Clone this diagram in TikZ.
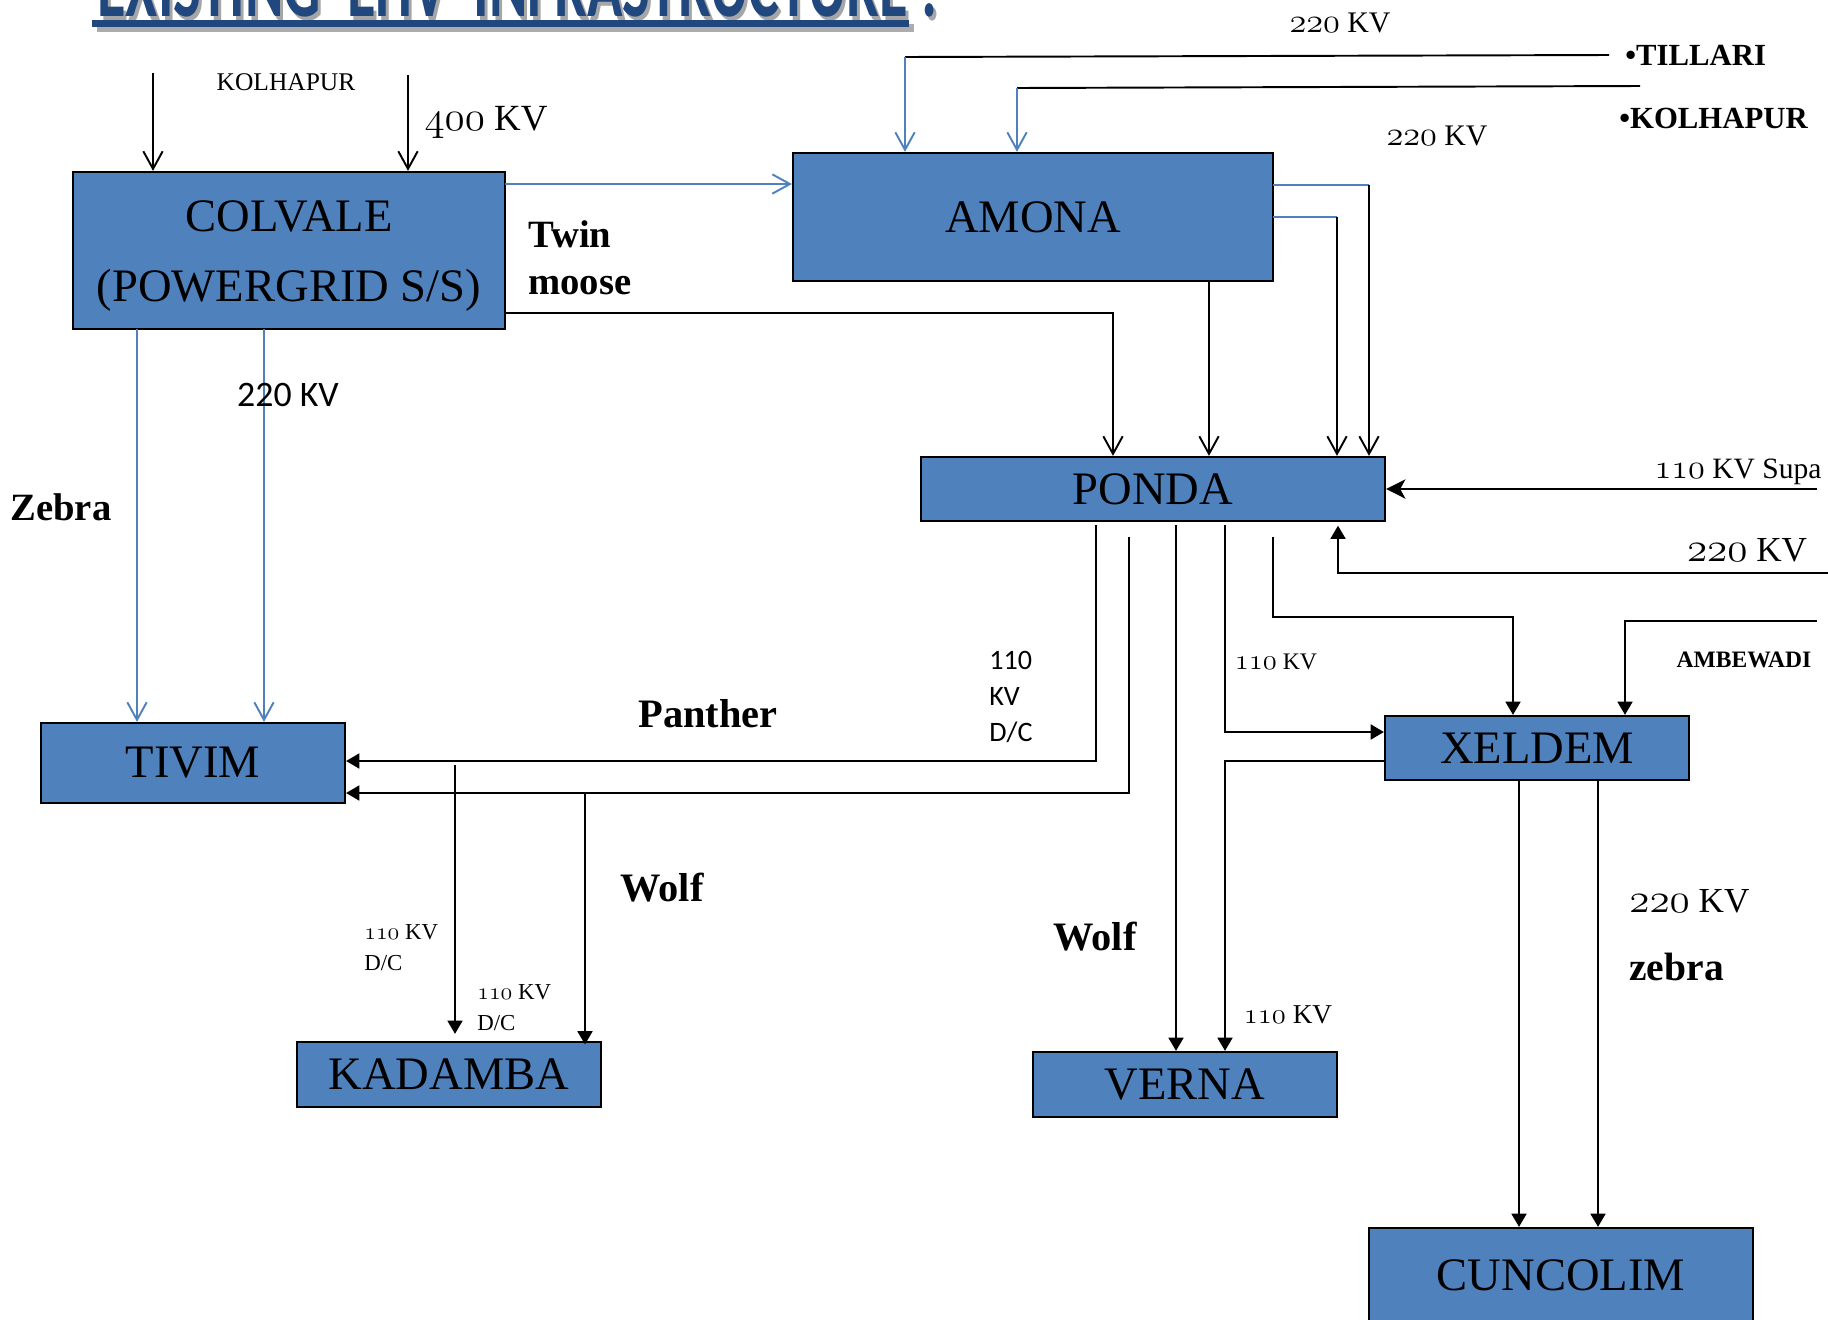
\documentclass[tikz,border=0pt]{standalone}
\usepackage{fontspec}
\usepackage{graphicx}
\setmainfont{Liberation Serif}
\newfontfamily\carl{Carlito}
\usetikzlibrary{arrows.meta,calc}
\newcommand\osn[1]{\scalebox{1.13}{\usefont{OML}{cmm}{m}{it}#1}}
\definecolor{boxblue}{RGB}{79,129,189}
\definecolor{titleblue}{RGB}{33,72,126}
\tikzset{
  box/.style={draw=black, fill=boxblue, line width=1.3pt, inner sep=0pt,
    font=\fontsize{26.5}{40}\selectfont, align=center},
  ln/.style={draw=black, line width=1.1pt},
  bl/.style={draw=boxblue, line width=1.2pt},
  oa/.style={-{Straight Barb[length=10pt,width=11pt,line width=1.1pt]}},
  ta/.style={-{Triangle[length=7.5pt,width=8.5pt]}},
  sa/.style={-{Stealth[length=11pt,width=11pt,inset=3pt]}},
  lbl/.style={inner sep=0pt},
}
\begin{document}
\begin{tikzpicture}[x=0.02cm,y=-0.02cm]
\useasboundingbox (0,0) rectangle (1828,1319);

% ---- title (cut off at top) ----
\fill[gray!65] (97,24) rectangle (914,32);
\node[lbl, anchor=base west, text=gray!70] (titleshadow) at (100,20)
  {\resizebox{16.8cm}{1.2cm}{\carl\bfseries EXISTING\ \ EHV\ \ INFRASTRUCTURE :}};
\node[lbl, anchor=base west, text=titleblue] (title) at (97,16)
  {\resizebox{16.8cm}{1.2cm}{\carl\bfseries EXISTING\ \ EHV\ \ INFRASTRUCTURE :}};
\fill[titleblue] (92,20) rectangle (909,27);

% ---- boxes ----
\node[box, minimum width=8.64cm, minimum height=3.14cm] (colvale) at (289,250.5) {\rule{0pt}{24pt}COLVALE\\(POWERGRID S/S)};
\node[box, minimum width=9.6cm, minimum height=2.56cm] (amona) at (1033,217) {AMONA};
\node[box, minimum width=9.28cm, minimum height=1.28cm] (ponda) at (1153,489) {PONDA};
\node[box, minimum width=6.08cm, minimum height=1.6cm] (tivim) at (193,763) {TIVIM};
\node[box, minimum width=6.08cm, minimum height=1.3cm] (kadamba) at (449,1074.5) {KADAMBA};
\node[box, minimum width=6.08cm, minimum height=1.3cm] (verna) at (1185,1084.5) {VERNA};
\node[box, minimum width=6.08cm, minimum height=1.28cm] (xeldem) at (1537,748) {XELDEM};
\node[box, minimum width=7.68cm, minimum height=1.88cm] (cuncolim) at (1561,1275) {CUNCOLIM};

% ---- coordinates ----
\coordinate (kin1) at (153,73);
\coordinate (kin2) at (408,75);
\coordinate (ca) at (505,184);
\coordinate (cp) at (505,313);
\coordinate (cpx) at (1113,313);
\coordinate (ct1) at (137,329);
\coordinate (ct2) at (264,329);
\coordinate (til1) at (1609,55);
\coordinate (til2) at (905,57);
\coordinate (kol1) at (1640,86);
\coordinate (kol2) at (1017,88);
\coordinate (ap1) at (1209,281);
\coordinate (ap2) at (1273,185);
\coordinate (ap2b) at (1369,185);
\coordinate (ap3) at (1273,217);
\coordinate (ap3b) at (1337,217);
\coordinate (supa) at (1817,489);
\coordinate (r1) at (1828,573);
\coordinate (r2) at (1338,573);
\coordinate (pt1) at (1096,525);
\coordinate (pt1b) at (1096,761);
\coordinate (pt2) at (1129,537);
\coordinate (pt2b) at (1129,793);
\coordinate (k1) at (455,765);
\coordinate (k2) at (585,793);
\coordinate (pv) at (1176,525);
\coordinate (xv) at (1225,761);
\coordinate (px1) at (1225,525);
\coordinate (px1b) at (1225,732);
\coordinate (px2) at (1273,537);
\coordinate (px2b) at (1273,617);
\coordinate (px2c) at (1513,617);
\coordinate (amb1) at (1817,621);
\coordinate (amb2) at (1625,621);
\coordinate (xc1) at (1519,780);
\coordinate (xc2) at (1598,780);

% ---- connectors ----
\draw[ln,oa] (kin1) -- (kin1 |- colvale.north);
\draw[ln,oa] (kin2) -- (kin2 |- colvale.north);
\draw[bl,oa] (ca) -- (ca -| amona.west);
\draw[ln,oa] (cp) -- (cpx) -- (cpx |- ponda.north);
\draw[bl,oa] (ct1) -- (ct1 |- tivim.north);
\draw[bl,oa] (ct2) -- (ct2 |- tivim.north);
\draw[ln] (til1) -- (til2);
\draw[bl,oa] (til2) -- (til2 |- amona.north);
\draw[ln] (kol1) -- (kol2);
\draw[bl,oa] (kol2) -- (kol2 |- amona.north);
\draw[ln,oa] (ap1) -- (ap1 |- ponda.north);
\draw[bl] (ap2) -- (ap2b);
\draw[ln,oa] (ap2b) -- (ap2b |- ponda.north);
\draw[bl] (ap3) -- (ap3b);
\draw[ln,oa] (ap3b) -- (ap3b |- ponda.north);
\draw[ln,sa] (supa) -- (supa -| ponda.east);
\draw[ln,ta,shorten >=2pt] (r1) -- (r2) -- (r2 |- ponda.south);
\draw[ln,ta] (pt1) -- (pt1b) -- (pt1b -| tivim.east);
\draw[ln,ta] (pt2) -- (pt2b) -- (pt2b -| tivim.east);
\draw[ln,ta,shorten >=4pt] (k1) -- (k1 |- kadamba.north);
\draw[ln,ta,shorten >=-2pt] (k2) -- (k2 |- kadamba.north);
\draw[ln,ta] (pv) -- (pv |- verna.north);
\draw[ln,ta] (xv -| xeldem.west) -- (xv) -- (xv |- verna.north);
\draw[ln,ta] (px1) -- (px1b) -- (px1b -| xeldem.west);
\draw[ln,ta] (px2) -- (px2b) -- (px2c) -- (px2c |- xeldem.north);
\draw[ln,ta] (amb1) -- (amb2) -- (amb2 |- xeldem.north);
\draw[ln,ta] (xc1) -- (xc1 |- cuncolim.north);
\draw[ln,ta] (xc2) -- (xc2 |- cuncolim.north);

% ---- labels ----
\node[lbl, font=\fontsize{14.5}{17}\selectfont] (lkol) at (286,82) {KOLHAPUR};
\node[lbl, font=\fontsize{21}{25}\selectfont] (l400) at (486,122) {\osn{400} KV};
\node[lbl, font=\fontsize{17}{20}\selectfont] (l220a) at (1340,23) {\osn{220} KV};
\node[lbl, anchor=west, font=\bfseries\fontsize{17.5}{20}\selectfont] (ltil) at (1625,55) {•TILLARI};
\node[lbl, anchor=west, font=\bfseries\fontsize{17.5}{20}\selectfont] (lkol2) at (1619,118) {•KOLHAPUR};
\node[lbl, font=\fontsize{17}{20}\selectfont] (l220b) at (1437,136) {\osn{220} KV};
\node[lbl, anchor=west, align=left, font=\bfseries\fontsize{22}{26.7}\selectfont] (ltwin) at (528,258) {Twin\\moose};
\node[lbl, font=\carl\fontsize{20.4}{24}\selectfont] (l220c) at (288,395) {220 KV};
\node[lbl, font=\bfseries\fontsize{22}{26}\selectfont] (lzebra) at (61,507) {Zebra};
\node[lbl, font=\bfseries\fontsize{23}{27}\selectfont] (lpan) at (708,714) {Panther};
\node[lbl, anchor=west, align=left, font=\carl\fontsize{16}{20.5}\selectfont] (l110dc) at (989,697) {110\\KV\\D/C};
\node[lbl, font=\fontsize{13.5}{16}\selectfont] (l110a) at (1276,662) {\osn{110} KV};
\node[lbl, font=\bfseries\fontsize{13.4}{16}\selectfont] (lamb) at (1744,660) {AMBEWADI};
\node[lbl, font=\fontsize{16.8}{20}\selectfont] (lsupa) at (1738,472) {\osn{110} KV Supa};
\node[lbl, font=\fontsize{20}{24}\selectfont] (l220d) at (1747,550) {\osn{220} KV};
\node[lbl, font=\bfseries\fontsize{23}{27}\selectfont] (lwolf1) at (662,888) {Wolf};
\node[lbl, font=\bfseries\fontsize{23}{27}\selectfont] (lwolf2) at (1095,937) {Wolf};
\node[lbl, anchor=west, align=left, font=\fontsize{13}{17.6}\selectfont] (lk1) at (364,948) {\osn{110} KV\\D/C};
\node[lbl, anchor=west, align=left, font=\fontsize{13}{17.6}\selectfont] (lk2) at (477,1008) {\osn{110} KV\\D/C};
\node[lbl, font=\fontsize{15.5}{18}\selectfont] (l110v) at (1288,1015) {\osn{110} KV};
\node[lbl, anchor=west, font=\fontsize{20}{24}\selectfont] (l220e) at (1629,901) {\osn{220} KV};
\node[lbl, anchor=west, font=\bfseries\fontsize{22.5}{26}\selectfont] (lzeb2) at (1629,967) {zebra};
\end{tikzpicture}
\end{document}
